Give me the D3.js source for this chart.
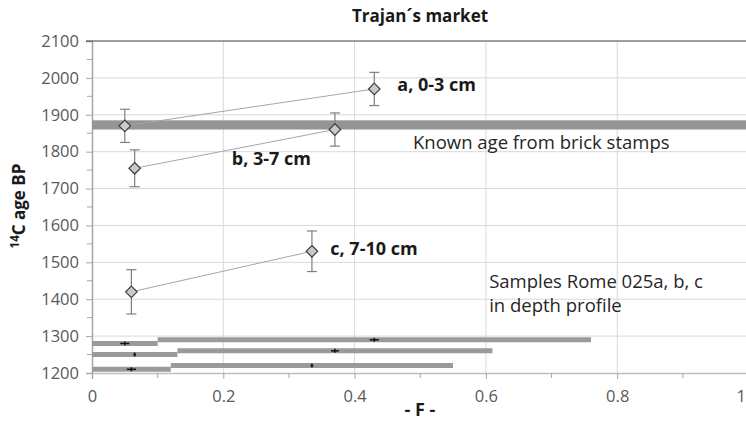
<!DOCTYPE html>
<html>
<head>
<meta charset="utf-8">
<script src="https://cdn.jsdelivr.net/npm/d3@7"></script>
<style>
  body { margin: 0; background: #fff; }
  svg { display: block; font-family: "Open Sans", sans-serif; }
</style>
</head>
<body>
<svg width="746" height="421"></svg>
<script>
// sample points: F value, 14C age, age error
var sampleNames = ["a", "b", "c"];
var fValues = [[0.05, 0.43], [0.065, 0.37], [0.06, 0.335]];
var ages = [[1870, 1970], [1755, 1860], [1420, 1530]];
var ageErrors = [[45, 45], [50, 45], [60, 55]];

// F ranges drawn as bars near the bottom (one row per sample)
var fRanges = [[[0, 0.1], [0.1, 0.76]], [[0, 0.13], [0.13, 0.61]], [[0, 0.12], [0.12, 0.55]]];
var rangeRowAges = [[1280, 1290], [1250, 1260], [1210, 1220]];
var fErrors = [[0.007, 0.007], [0.002, 0.006], [0.007, 0.002]];

// known age band from brick stamps
var knownAge = [1860, 1885];

var sampleLabels = ["a, 0-3 cm", "b, 3-7 cm", "c, 7-10 cm"];
var sampleLabelPos = [[0.465, 1964], [0.213, 1764], [0.363, 1520]];

var xTicks = [0, 0.2, 0.4, 0.6, 0.8, 1];
var xMinorTicks = [0.1, 0.3, 0.5, 0.7, 0.9];
var yTicks = [1200, 1300, 1400, 1500, 1600, 1700, 1800, 1900, 2000, 2100];
var yMinorTicks = [1250, 1350, 1450, 1550, 1650, 1750, 1850, 1950, 2050];

var svg = d3.select("svg"),
    width = +svg.attr("width"),
    height = +svg.attr("height");

var x = d3.scaleLinear().domain([0, 1]).range([92, 748.5]);
var y = d3.scaleLinear().domain([1200, 2100]).range([373, 41]);

var gridColor = "#d9d9d9",
    axisColor = "#a6a6a6",
    labelColor = "#595959";

// gridlines
svg.append("g").selectAll("line").data(yTicks.slice(1, -1)).enter().append("line")
    .attr("x1", x(0)).attr("x2", x(1))
    .attr("y1", function(d) { return y(d); }).attr("y2", function(d) { return y(d); })
    .attr("stroke", gridColor).attr("stroke-width", 1);

svg.append("g").selectAll("line").data(xTicks.slice(1)).enter().append("line")
    .attr("x1", function(d) { return x(d); }).attr("x2", function(d) { return x(d); })
    .attr("y1", y(2100)).attr("y2", y(1200))
    .attr("stroke", gridColor).attr("stroke-width", 1);

// y axis
var yAxis = d3.axisLeft(y).tickValues(yTicks).tickSize(6).tickPadding(7).tickFormat(d3.format("d"));
var gy = svg.append("g").attr("transform", "translate(" + x(0) + ",0)").call(yAxis);
gy.select(".domain").attr("stroke", axisColor).attr("stroke-width", 1.5);
gy.selectAll(".tick line").attr("stroke", axisColor);
gy.selectAll(".tick text").attr("fill", labelColor).style("font-size", "16.5px")
    .style("font-family", "'Open Sans', sans-serif");

gy.append("g").selectAll("line").data(yMinorTicks).enter().append("line")
    .attr("x1", -5).attr("x2", 0)
    .attr("y1", function(d) { return y(d); }).attr("y2", function(d) { return y(d); })
    .attr("stroke", axisColor);

// x axis at 1200
var xAxis = d3.axisBottom(x).tickValues(xTicks).tickSize(6).tickPadding(11)
    .tickFormat(function(d) { return (d === 0 || d === 1) ? d : d.toFixed(1); });
var gx = svg.append("g").attr("transform", "translate(0," + y(1200) + ")").call(xAxis);
gx.select(".domain").attr("stroke", "#bfbfbf").attr("stroke-width", 1.5);
gx.selectAll(".tick line").attr("stroke", axisColor);
gx.selectAll(".tick text").attr("fill", labelColor).style("font-size", "16.5px")
    .style("font-family", "'Open Sans', sans-serif");
// last label sits at the right edge, keep it inside the page
gx.selectAll(".tick text").filter(function(d) { return d === 1; })
    .attr("text-anchor", "end").attr("x", width - x(1) - 0.5);

gx.append("g").selectAll("line").data(xMinorTicks).enter().append("line")
    .attr("x1", function(d) { return x(d); }).attr("x2", function(d) { return x(d); })
    .attr("y1", 0).attr("y2", 5)
    .attr("stroke", axisColor);

// dark top border
svg.append("line")
    .attr("x1", x(0) - 6).attr("x2", x(1))
    .attr("y1", y(2100)).attr("y2", y(2100))
    .attr("stroke", "#404040").attr("stroke-width", 1.2);

// known age band
svg.append("rect")
    .attr("x", x(0)).attr("width", x(1) - x(0))
    .attr("y", y(knownAge[1])).attr("height", y(knownAge[0]) - y(knownAge[1]))
    .attr("fill", "#959595");

// F range bars
var barData = [];
fRanges.forEach(function(row, i) {
    row.forEach(function(r, j) {
        barData.push({ f0: r[0], f1: r[1], age: rangeRowAges[i][j], f: fValues[i][j], err: fErrors[i][j] });
    });
});

svg.append("g").selectAll("line").data(barData).enter().append("line")
    .attr("x1", function(d) { return x(d.f0); }).attr("x2", function(d) { return x(d.f1); })
    .attr("y1", function(d) { return y(d.age); }).attr("y2", function(d) { return y(d.age); })
    .attr("stroke", "#9a9a9a").attr("stroke-width", 5);

var marks = svg.append("g").selectAll("g").data(barData).enter().append("g");
marks.append("line")
    .attr("x1", function(d) { return x(d.f - d.err); }).attr("x2", function(d) { return x(d.f + d.err); })
    .attr("y1", function(d) { return y(d.age); }).attr("y2", function(d) { return y(d.age); })
    .attr("stroke", "#111").attr("stroke-width", 1.5);
marks.append("line")
    .attr("x1", function(d) { return x(d.f); }).attr("x2", function(d) { return x(d.f); })
    .attr("y1", function(d) { return y(d.age) - 2; }).attr("y2", function(d) { return y(d.age) + 2; })
    .attr("stroke", "#111").attr("stroke-width", 1.5);

// samples: connecting lines, error bars, diamonds
var pts = [];
sampleNames.forEach(function(name, i) {
    pts.push([0, 1].map(function(j) {
        return { name: name, f: fValues[i][j], age: ages[i][j], err: ageErrors[i][j] };
    }));
});

svg.append("g").selectAll("line").data(pts).enter().append("line")
    .attr("x1", function(d) { return x(d[0].f); }).attr("x2", function(d) { return x(d[1].f); })
    .attr("y1", function(d) { return y(d[0].age); }).attr("y2", function(d) { return y(d[1].age); })
    .attr("stroke", "#a6a6a6").attr("stroke-width", 1);

var flat = d3.merge(pts);
var eb = svg.append("g").selectAll("g").data(flat).enter().append("g");
eb.append("line")
    .attr("x1", function(d) { return x(d.f); }).attr("x2", function(d) { return x(d.f); })
    .attr("y1", function(d) { return y(d.age + d.err); }).attr("y2", function(d) { return y(d.age - d.err); })
    .attr("stroke", "#7f7f7f").attr("stroke-width", 1.2);
eb.selectAll(".cap").data(function(d) { return [d.age + d.err, d.age - d.err].map(function(a) { return { f: d.f, a: a }; }); })
    .enter().append("line")
    .attr("x1", function(d) { return x(d.f) - 5; }).attr("x2", function(d) { return x(d.f) + 5; })
    .attr("y1", function(d) { return y(d.a); }).attr("y2", function(d) { return y(d.a); })
    .attr("stroke", "#7f7f7f").attr("stroke-width", 1.2);

svg.append("g").selectAll("path").data(flat).enter().append("path")
    .attr("d", d3.symbol().type(d3.symbolDiamond2).size(85))
    .attr("transform", function(d) { return "translate(" + x(d.f) + "," + y(d.age) + ")"; })
    .attr("fill", "#c9c9c9").attr("stroke", "#404040").attr("stroke-width", 1.2);

// labels
svg.append("g").selectAll("text").data(sampleLabels).enter().append("text")
    .attr("x", function(d, i) { return x(sampleLabelPos[i][0]); })
    .attr("y", function(d, i) { return y(sampleLabelPos[i][1]); })
    .attr("fill", "#1a1a1a").style("font-size", "18px").style("font-weight", "bold")
    .text(function(d) { return d; });

svg.append("text")
    .attr("x", x(0.489)).attr("y", y(1806))
    .attr("fill", "#262626").style("font-size", "18.5px")
    .text("Known age from brick stamps");

svg.append("text")
    .attr("x", x(0.605)).attr("y", y(1430))
    .attr("fill", "#262626").style("font-size", "18.5px")
    .text("Samples Rome 025a, b, c");
svg.append("text")
    .attr("x", x(0.605)).attr("y", y(1366))
    .attr("fill", "#262626").style("font-size", "18.5px")
    .text("in depth profile");

// titles
svg.append("text")
    .attr("x", 420).attr("y", 22)
    .attr("text-anchor", "middle")
    .attr("fill", "#1a1a1a").style("font-size", "17px").style("font-weight", "bold")
    .text("Trajan\u00b4s market");

svg.append("text")
    .attr("x", 420).attr("y", 416)
    .attr("text-anchor", "middle")
    .attr("fill", "#1a1a1a").style("font-size", "18px").style("font-weight", "bold")
    .text("- F -");

var yt = svg.append("text")
    .attr("transform", "translate(25,206) rotate(-90)")
    .attr("text-anchor", "middle")
    .attr("fill", "#1a1a1a").style("font-size", "17px").style("font-weight", "bold");
yt.append("tspan").attr("dy", "-6").style("font-size", "11.5px").text("14");
yt.append("tspan").attr("dy", "6").text("C age BP");
</script>
</body>
</html>
